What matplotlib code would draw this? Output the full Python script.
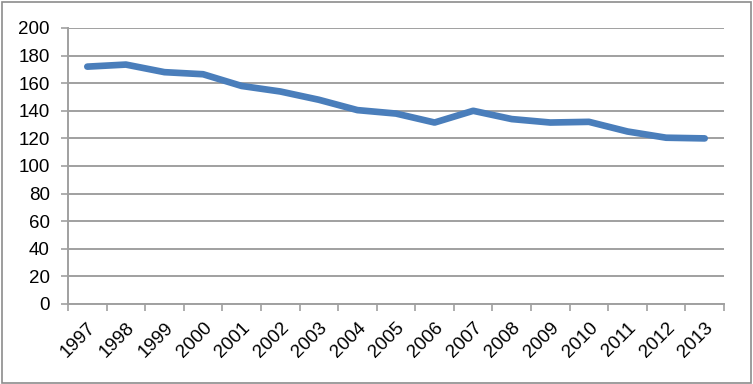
import matplotlib.pyplot as plt
import numpy as np
from matplotlib.patches import Rectangle

plt.rcParams["font.family"] = ["Liberation Sans", "DejaVu Sans"]

anios = ["1997", "1998", "1999", "2000", "2001", "2002", "2003", "2004", "2005",
         "2006", "2007", "2008", "2009", "2010", "2011", "2012", "2013"]
valores = [172, 173.5, 168, 166.5, 158, 154, 148, 140.5, 138,
           131.5, 140, 134, 131.5, 132, 125, 120.5, 120]

gris = "#A0A0A0"

fig = plt.figure(figsize=(7.53, 3.84), dpi=100)
ax = fig.add_axes([68 / 753, 1 - 304 / 384, 656 / 753, 276 / 384])

x = np.arange(len(anios)) + 0.5
ax.plot(x, valores, color="#4A7EBB", linewidth=4.8, solid_capstyle="round",
        solid_joinstyle="round", zorder=3)

ax.set_xlim(0, len(anios))
ax.set_ylim(0, 200)
ax.set_yticks(np.arange(0, 201, 20))
ax.yaxis.grid(True, color=gris, linewidth=1.4)
ax.set_axisbelow(True)

# ticks en los limites de categoria, etiquetas centradas
ax.set_xticks(np.arange(len(anios) + 1))
ax.set_xticklabels([])
ax.set_xticks(x, minor=True)
ax.set_xticklabels(anios, minor=True, rotation=45, ha="right",
                   rotation_mode="anchor", fontsize=13.5)
ax.tick_params(axis="x", which="minor", length=0, pad=11)
ax.tick_params(axis="x", which="major", length=5, color=gris, width=1.2)
ax.tick_params(axis="y", length=5, color=gris, width=1.2, labelsize=13.5, pad=8)

for lado in ["top", "right"]:
    ax.spines[lado].set_visible(False)
for lado in ["left", "bottom"]:
    ax.spines[lado].set_color(gris)
    ax.spines[lado].set_linewidth(1.4)

fig.patches.append(Rectangle((0.002, 0.003), 0.995, 0.993, transform=fig.transFigure,
                             fill=False, edgecolor="#8C8C8C", linewidth=1.2))

fig.savefig("out.png", dpi=100)
